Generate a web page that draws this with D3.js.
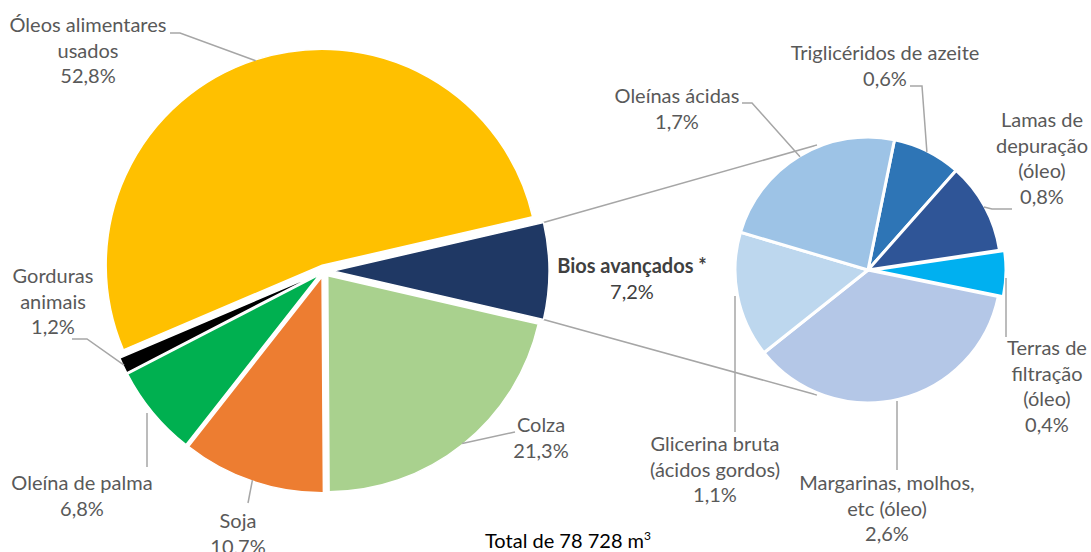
<!DOCTYPE html>
<html>
<head>
<meta charset="utf-8">
<script src="https://cdn.jsdelivr.net/npm/d3@7"></script>
<style>
  body { margin: 0; background: #fff; }
  text { font-family: Lato, "Open Sans", sans-serif; }
</style>
</head>
<body>
<script>
// main pie data (share of total, %)
const mainNames = ["Bios avançados *", "Colza", "Soja", "Oleína de palma", "Gorduras animais", "Óleos alimentares usados"];
const mainValues = [7.2, 21.3, 10.7, 6.8, 1.2, 52.8];
const mainLabels = ["7,2%", "21,3%", "10,7%", "6,8%", "1,2%", "52,8%"];
const mainColors = ["#1F3864", "#A9D18E", "#ED7D31", "#00B050", "#000000", "#FFC000"];

// breakdown of "Bios avançados"
const subNames = ["Triglicéridos de azeite", "Lamas de depuração (óleo)", "Terras de filtração (óleo)",
  "Margarinas, molhos, etc (óleo)", "Glicerina bruta (ácidos gordos)", "Oleínas ácidas"];
const subValues = [0.6, 0.8, 0.4, 2.6, 1.1, 1.7];
const subLabels = ["0,6%", "0,8%", "0,4%", "2,6%", "1,1%", "1,7%"];
const subColors = ["#2E75B6", "#2F5597", "#00B0F0", "#B4C7E7", "#BDD7EE", "#9DC3E6"];

const W = 1091, H = 552;
const svg = d3.select("body").append("svg")
    .attr("width", W)
    .attr("height", H);

const rad = d => d * Math.PI / 180;
const textColor = "#595959", lineColor = "#A6A6A6";
const fontSize = 20, lineH = 25.5;

// pies
const mainC = { x: 324, y: 271 }, mainR = 216;
const subC = { x: 868, y: 270 }, subR = 133;

const bioSpan = 360 * mainValues[0] / d3.sum(mainValues);
const mainStart = rad(90 - bioSpan / 2);
const mainPie = d3.pie().sort(null).startAngle(mainStart).endAngle(mainStart + 2 * Math.PI);
const subPie = d3.pie().sort(null).startAngle(rad(11.5)).endAngle(rad(11.5) + 2 * Math.PI);

const mainArcs = mainPie(mainValues);
const subArcs = subPie(subValues);

const mainExplode = [9, 6, 6, 6, 6, 6];
const subExplode = [0, 0, 5, 0, 0, 0];

function polar(c, r, a) {
    return [c.x + r * Math.sin(a), c.y - r * Math.cos(a)];
}
function offset(d, e) {
    const m = (d.startAngle + d.endAngle) / 2;
    return [e * Math.sin(m), -e * Math.cos(m)];
}

// connector lines between the "Bios" slice and the secondary pie
const bio = mainArcs[0];
const bo = offset(bio, mainExplode[0]);
const p1 = polar(mainC, mainR, bio.startAngle), p2 = polar(mainC, mainR, bio.endAngle);
const q1 = polar(subC, subR + 2, rad(337.8)), q2 = polar(subC, subR + 2, rad(202.2));
svg.append("g").selectAll("line")
    .data([[p1, q1], [p2, q2]])
    .enter().append("line")
    .attr("x1", d => d[0][0] + bo[0]).attr("y1", d => d[0][1] + bo[1])
    .attr("x2", d => d[1][0]).attr("y2", d => d[1][1])
    .attr("stroke", lineColor).attr("stroke-width", 1.5);

// main pie
const mainArc = d3.arc().innerRadius(0).outerRadius(mainR);
svg.append("g")
    .attr("transform", "translate(" + mainC.x + "," + mainC.y + ")")
    .selectAll("path")
    .data(mainArcs)
    .enter().append("path")
    .attr("d", mainArc)
    .attr("transform", (d, i) => "translate(" + offset(d, mainExplode[i]) + ")")
    .attr("fill", (d, i) => mainColors[i])
    .attr("stroke", "#fff").attr("stroke-width", 1.5);

// secondary pie
const subArc = d3.arc().innerRadius(0).outerRadius(subR);
svg.append("g")
    .attr("transform", "translate(" + subC.x + "," + subC.y + ")")
    .selectAll("path")
    .data(subArcs)
    .enter().append("path")
    .attr("d", subArc)
    .attr("transform", (d, i) => "translate(" + offset(d, subExplode[i]) + ")")
    .attr("fill", (d, i) => subColors[i])
    .attr("stroke", "#fff").attr("stroke-width", 3);

// label layout: text lines, centre x, first baseline, leader points from the label side
const mainLayout = [
    { lines: ["Bios avançados *"], x: 632, y: 273, bold: true },
    { lines: ["Colza"], x: 541, y: 432, leader: [[515, 432]] },
    { lines: ["Soja"], x: 238, y: 528, leader: [[248, 503]] },
    { lines: ["Oleína de palma"], x: 82, y: 490, leader: [[147, 467], [147, 413]] },
    { lines: ["Gorduras", "animais"], x: 53, y: 283, leader: [[72, 339], [87, 339]] },
    { lines: ["Óleos alimentares", "usados"], x: 88, y: 32, leader: [[170, 33], [180, 33]] }
];
const subLayout = [
    { lines: ["Triglicéridos de azeite"], x: 885, y: 60, leader: [[910, 86], [922, 86]] },
    { lines: ["Lamas de", "depuração", "(óleo)"], x: 1042, y: 127, leader: [[1012, 209], [992, 209]] },
    { lines: ["Terras de", "filtração", "(óleo)"], x: 1047, y: 355, leader: [[1006, 337], [1006, 278]] },
    { lines: ["Margarinas, molhos,", "etc (óleo)"], x: 887, y: 490, leader: [[897, 470], [897, 401]] },
    { lines: ["Glicerina bruta", "(ácidos gordos)"], x: 715, y: 451, leader: [[735, 432], [735, 296]] },
    { lines: ["Oleínas ácidas"], x: 677, y: 103, leader: [[742, 103], [752, 103]] }
];

function drawLabels(arcs, layout, pcts, c, r, explode) {
    const lead = d3.line();
    arcs.forEach((d, i) => {
        const L = layout[i];
        if (L.leader) {
            const m = (d.startAngle + d.endAngle) / 2;
            const o = offset(d, explode[i]);
            const end = polar(c, r - 1, m);
            const pts = L.leader.slice();
            const last = pts[pts.length - 1];
            // vertical leaders stop where they meet the slice
            if (pts.length < 2 || last[0] !== pts[pts.length - 2][0]) pts.push([end[0] + o[0], end[1] + o[1]]);
            svg.append("path")
                .attr("d", lead(pts))
                .attr("fill", "none")
                .attr("stroke", lineColor).attr("stroke-width", 1.5);
        }
        const t = svg.append("text")
            .attr("text-anchor", "middle")
            .attr("font-size", fontSize)
            .attr("fill", L.bold ? "#404040" : textColor);
        L.lines.concat([pcts[i]]).forEach((s, k) => {
            t.append("tspan")
                .attr("x", L.x)
                .attr("y", L.y + k * lineH)
                .attr("font-weight", L.bold && k === 0 ? "bold" : null)
                .text(s);
        });
    });
}
drawLabels(mainArcs, mainLayout, mainLabels, mainC, mainR, mainExplode);
drawLabels(subArcs, subLayout, subLabels, subC, subR, subExplode);

// total
const tot = svg.append("text")
    .attr("x", 485).attr("y", 548)
    .attr("font-size", fontSize)
    .attr("fill", "#000");
tot.append("tspan").text("Total de 78 728 m");
tot.append("tspan").attr("font-size", 12).attr("dy", -8).text("3");
</script>
</body>
</html>
